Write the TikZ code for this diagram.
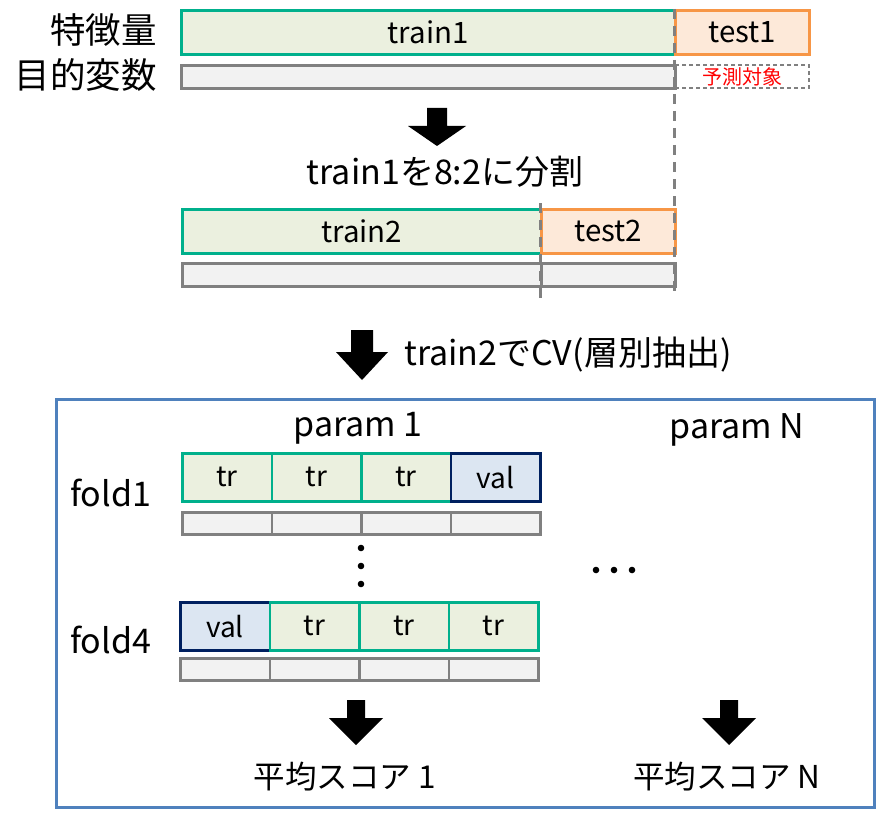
\documentclass[tikz,border=0pt]{standalone}
\usepackage{fontspec}
\setmainfont{Noto Sans CJK JP}
\definecolor{trg}{RGB}{0,176,140}
\definecolor{trf}{RGB}{235,240,223}
\definecolor{teo}{RGB}{247,150,70}
\definecolor{tef}{RGB}{253,233,217}
\definecolor{gb}{RGB}{128,128,128}
\definecolor{gf}{RGB}{242,242,242}
\definecolor{vb}{RGB}{0,32,96}
\definecolor{vf}{RGB}{220,230,242}
\definecolor{frame}{RGB}{79,129,189}
\newcommand{\blockarrow}[6]{% x, ytop, shaftlen, headlen, shafthalf, headhalf
  \fill (#1-#5,#2) -- (#1+#5,#2) -- (#1+#5,#2+#3) -- (#1+#6,#2+#3) -- (#1,#2+#3+#4) -- (#1-#6,#2+#3) -- (#1-#5,#2+#3) -- cycle;}
\begin{document}
\begin{tikzpicture}[x=1pt,y=-1pt,font=\fontsize{33}{36}\selectfont]
\useasboundingbox (0,0) rectangle (882,813);
\tikzset{
  box/.style={draw, line width=2.6pt, inner sep=0pt, anchor=north west},
  trbox/.style={box, draw=trg, fill=trf},
  tebox/.style={box, draw=teo, fill=tef},
  tgbox/.style={box, draw=gb, fill=gf},
  vabox/.style={box, draw=vb, fill=vf},
  dline/.style={draw=gb, line width=3pt, dash pattern=on 10pt off 7pt},
  lbl/.style={inner sep=0pt},
  big/.style={font=\fontsize{35.5}{38}\selectfont},
  mid/.style={font=\fontsize{34}{36}\selectfont},
  topfont/.style={font=\fontsize{29.5}{32}\selectfont},
  cellfont/.style={font=\fontsize{28}{30}\selectfont},
  scorefont/.style={font=\fontsize{31.5}{34}\selectfont},
}
% top row
\node[trbox, topfont, minimum width=494, minimum height=44] (train1) at (180,9) {train1};
\node[tebox, topfont, minimum width=134, minimum height=44] (test1) at (674,9) {test1};
\node[tgbox, minimum width=494, minimum height=23] (tgt1) at (180,64) {};
\node[box, draw=gb, line width=2pt, dash pattern=on 4pt off 3pt, minimum width=134, minimum height=23,
      text=red, font=\fontsize{20}{21}\selectfont] (pred) at (674,64) {予測対象};
\node[lbl, anchor=east, big] (feat) at (157,30) {特徴量};
\node[lbl, anchor=east, big] (targ) at (157,75) {目的変数};
% arrow 1
\blockarrow{437}{108}{18}{20}{10}{29}
\node[lbl, mid] (split) at (445,172) {train1を8:2に分割};
% second row
\node[trbox, topfont, minimum width=359, minimum height=44] (train2) at (181,208) {train2};
\node[tebox, topfont, minimum width=134, minimum height=44] (test2) at (540,208) {test2};
\node[tgbox, minimum width=359, minimum height=23] (tgt2a) at (181,262) {};
\node[tgbox, minimum width=134, minimum height=23] (tgt2b) at (540,262) {};
\coordinate (d1e) at (674,293);
\coordinate (d2s) at (540,203);
\coordinate (d2e) at (540,300);
\draw[dline] (test1.north west) -- (d1e);
\draw[dline] (d2s) -- (d2e);
% arrow 2
\blockarrow{362}{330}{22}{28}{11}{26}
\node[lbl, anchor=west, mid] (cv) at (404,355) {train2でCV(層別抽出)};
% frame
\node[draw=frame, line width=3pt, minimum width=818, minimum height=408, anchor=north west, inner sep=0pt] (frm) at (55,398) {};
\node[lbl, mid] (p1) at (358,428) {param 1};
\node[lbl, mid] (pN) at (737,430) {param N};
\node[lbl, anchor=west, mid] (f1) at (70,493) {fold1};
\node[lbl, anchor=west, mid] (f4) at (70,640) {fold4};
% fold1
\node[trbox, cellfont, minimum width=89.5, minimum height=48] (a1) at (181,452) {tr};
\node[trbox, cellfont, minimum width=89.5, minimum height=48] (a2) at (270.5,452) {tr};
\node[trbox, cellfont, minimum width=89.5, minimum height=48] (a3) at (360,452) {tr};
\node[vabox, cellfont, minimum width=89.5, minimum height=48] (a4) at (449.5,452) {val};
\foreach \i/\x in {1/181,2/270.5,3/360,4/449.5}
  \node[tgbox, minimum width=89.5, minimum height=22] (ab\i) at (\x,511) {};
% dots
\foreach \y [count=\k] in {548,566,584} \fill (361,\y) circle (3.3) coordinate (vd\k);
\foreach \x [count=\k] in {596,614,632} \fill (\x,570) circle (3.3) coordinate (hd\k);
% fold4
\node[vabox, cellfont, minimum width=89.5, minimum height=48] (b1) at (179,601) {val};
\node[trbox, cellfont, minimum width=89.5, minimum height=48] (b2) at (268.5,601) {tr};
\node[trbox, cellfont, minimum width=89.5, minimum height=48] (b3) at (358,601) {tr};
\node[trbox, cellfont, minimum width=89.5, minimum height=48] (b4) at (447.5,601) {tr};
\foreach \i/\x in {1/179,2/268.5,3/358,4/447.5}
  \node[tgbox, minimum width=89.5, minimum height=22] (bb\i) at (\x,657) {};
% arrows 3,4
\blockarrow{356}{700}{18}{27}{9}{27}
\blockarrow{729}{700}{18}{27}{9}{27}
\node[lbl, scorefont] (s1) at (345,777) {平均スコア 1};
\node[lbl, scorefont] (sN) at (727,777) {平均スコア N};
\end{tikzpicture}
\end{document}
